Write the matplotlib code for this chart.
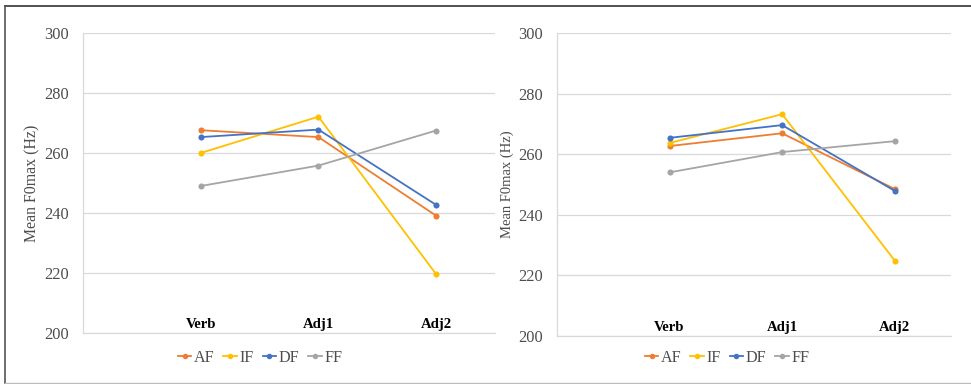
import matplotlib
matplotlib.use("Agg")
import matplotlib.pyplot as plt
from matplotlib.lines import Line2D
from matplotlib.transforms import blended_transform_factory

plt.rcParams['font.family'] = ['Liberation Serif', 'DejaVu Serif']

categories = ["Verb", "Adj1", "Adj2"]
series_names = ["AF", "IF", "DF", "FF"]
colors = ["#ED7D31", "#FFC000", "#4472C4", "#A5A5A5"]

left_AF = [267.6, 265.3, 239.1]
left_IF = [260.0, 272.1, 219.6]
left_DF = [265.3, 267.8, 242.7]
left_FF = [249.0, 255.8, 267.5]

right_AF = [262.7, 266.9, 248.5]
right_IF = [263.7, 273.2, 224.9]
right_DF = [265.4, 269.6, 247.9]
right_FF = [254.0, 260.7, 264.3]

yticks = [200, 220, 240, 260, 280, 300]
ylabel = "Mean F0max (Hz)"

W, H = 971, 384
fig = plt.figure(figsize=(W / 100, H / 100), dpi=100)

def frac_x(px):
    return px / W

def frac_y(py):
    return 1 - py / H

panels = [
    dict(rect=(83, 495, 333, 33), data=[left_AF, left_IF, left_DF, left_FF],
         ylab_size=11.4, legend_center=(260, 358)),
    dict(rect=(557, 951, 336, 33), data=[right_AF, right_IF, right_DF, right_FF],
         ylab_size=10.5, legend_center=(727, 358)),
]

grid_color = "#D9D9D9"
text_gray = "#4D4D4D"

for p in panels:
    x0, x1, yb, yt = p['rect']
    ax = fig.add_axes([frac_x(x0), frac_y(yb), frac_x(x1 - x0), frac_y(yt) - frac_y(yb)])
    xs = list(range(1, len(categories) + 1))
    handles = []
    for name, vals, c in zip(series_names, p['data'], colors):
        h, = ax.plot(xs, vals, color=c, lw=1.3, marker='o', markersize=4.4,
                     markeredgewidth=0, label=name, zorder=3)
        handles.append(h)
    ax.set_xlim(0, 3.5)
    ax.set_ylim(200, 300)
    ax.set_yticks(yticks)
    ax.set_yticklabels([str(t) for t in yticks], fontsize=11.8, color=text_gray)
    ax.yaxis.grid(True, color=grid_color, lw=0.9)
    ax.set_axisbelow(True)
    ax.tick_params(axis='y', length=0, pad=10)
    ax.set_xticks([])
    for s in ['top', 'right']:
        ax.spines[s].set_visible(False)
    for s in ['left', 'bottom']:
        ax.spines[s].set_color(grid_color)
        ax.spines[s].set_linewidth(0.9)
    trans = blended_transform_factory(ax.transData, ax.transAxes)
    for i, lab in enumerate(categories):
        ax.text(xs[i], 0.018, lab, transform=trans, ha='center', va='baseline',
                fontsize=10.6, fontweight='bold', color='black')
    ax.set_ylabel(ylabel, fontsize=p['ylab_size'], color=text_gray, labelpad=3)
    lx, ly = p['legend_center']
    fig.legend(handles=handles, labels=series_names, loc='center',
               bbox_to_anchor=(frac_x(lx), frac_y(ly)), ncol=4, frameon=False,
               fontsize=11.6, handlelength=0.85, handletextpad=0.15,
               columnspacing=0.55, labelcolor=text_gray, markerscale=0.9)

# outer frame
fig.add_artist(Line2D([frac_x(5), 1], [frac_y(6), frac_y(6)], transform=fig.transFigure,
                      color="#333333", lw=1.2))
fig.add_artist(Line2D([frac_x(5), frac_x(5)], [frac_y(6), frac_y(383)], transform=fig.transFigure,
                      color="#555555", lw=1.2))
fig.add_artist(Line2D([frac_x(5), 1], [frac_y(382.5), frac_y(382.5)], transform=fig.transFigure,
                      color="#BBBBBB", lw=1.0))

fig.savefig("out.png", dpi=100)
